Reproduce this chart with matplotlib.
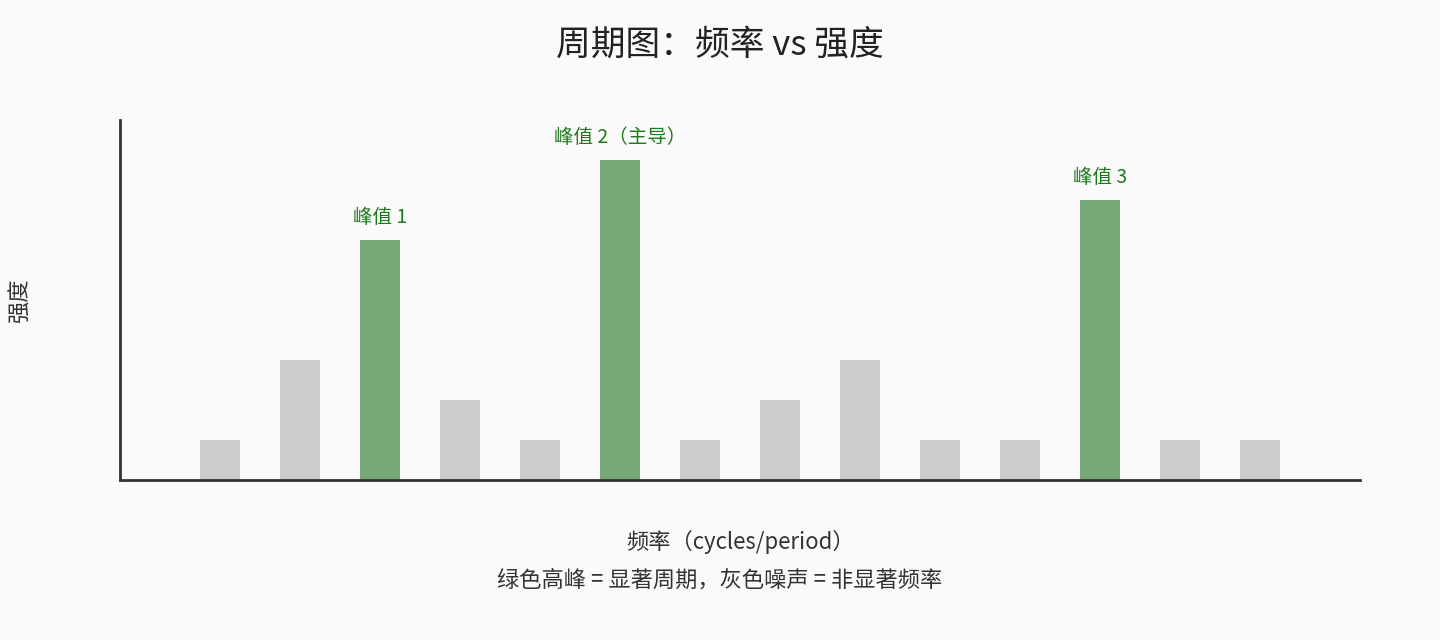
import matplotlib
matplotlib.use("Agg")
import matplotlib.pyplot as plt

plt.rcParams['font.family'] = ['Noto Sans CJK SC', 'DejaVu Sans']

positions = list(range(1, 15))
values = [1, 3, 6, 2, 1, 8, 1, 2, 3, 1, 1, 7, 1, 1]
peaks = {3: "峰值 1", 6: "峰值 2（主导）", 12: "峰值 3"}

fig = plt.figure(figsize=(14.4, 6.4), dpi=100, facecolor="#fafafa")
ax = fig.add_axes([120/1440, 160/640, 1240/1440, 360/640])
ax.set_facecolor("#fafafa")
colors = ["#78a978" if p in peaks else "#cccccc" for p in positions]
ax.bar(positions, values, width=0.5, color=colors)
for p, lab in peaks.items():
    ax.text(p, values[p-1] + 0.3, lab, ha="center", va="bottom", color="#1e7a1e", fontsize=14)
ax.set_xlim(-0.25, 15.25)
ax.set_ylim(0, 9)
for s in ["top", "right"]:
    ax.spines[s].set_visible(False)
for s in ["left", "bottom"]:
    ax.spines[s].set_color("#333333")
    ax.spines[s].set_linewidth(2)
ax.set_xticks([]); ax.set_yticks([])
ax.set_xlabel("频率（cycles/period）", fontsize=16, color="#333333")
ax.xaxis.set_label_coords(0.5, -50/360)
ax.set_ylabel("强度", fontsize=16, color="#333333")
ax.yaxis.set_label_coords(-88/1240, 0.5)
fig.text(0.5, 1 - 45/640, "周期图：频率 vs 强度", ha="center", va="center", fontsize=25, color="#222222")
fig.text(0.5, 1 - 580/640, "绿色高峰 = 显著周期，灰色噪声 = 非显著频率", ha="center", va="center", fontsize=16, color="#333333")
fig.savefig("out.png", dpi=100, facecolor="#fafafa")
